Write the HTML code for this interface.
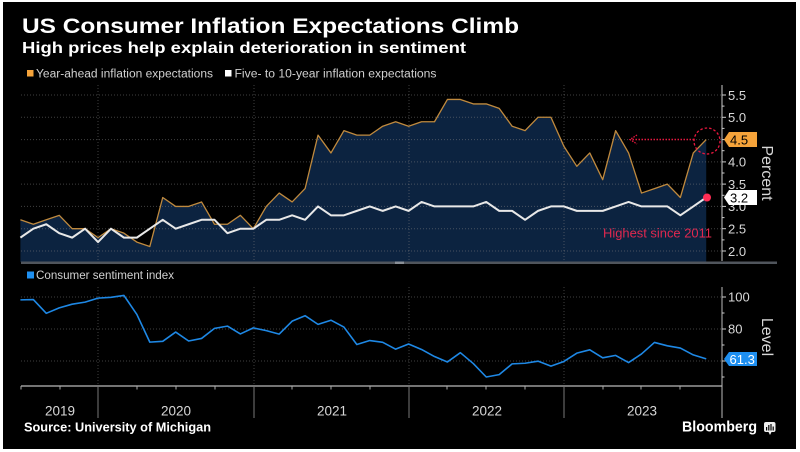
<!DOCTYPE html>
<html><head><meta charset="utf-8">
<style>
html,body{margin:0;padding:0;background:#fff;width:800px;height:452px;overflow:hidden}
svg{display:block}
text{font-family:"Liberation Sans",sans-serif}
</style></head>
<body>
<svg width="800" height="452" viewBox="0 0 800 452" xmlns="http://www.w3.org/2000/svg">
<rect x="0" y="0" width="800" height="452" fill="#ffffff"/>
<rect x="3" y="2" width="793" height="447" fill="#000000"/>

<!-- Titles -->
<text x="22" y="33" font-size="21" font-weight="bold" fill="#ffffff" textLength="497" lengthAdjust="spacingAndGlyphs">US Consumer Inflation Expectations Climb</text>
<text x="22" y="53" font-size="15.5" font-weight="bold" fill="#ffffff" textLength="444" lengthAdjust="spacingAndGlyphs">High prices help explain deterioration in sentiment</text>

<!-- Legend upper -->
<rect x="27" y="70" width="6.5" height="6.5" fill="#f5a33a"/>
<text x="36" y="77.5" font-size="11.5" fill="#d0d0d0" textLength="177" lengthAdjust="spacingAndGlyphs">Year-ahead inflation expectations</text>
<rect x="225" y="70" width="6.5" height="6.5" fill="#ffffff"/>
<text x="234.5" y="77.5" font-size="11.5" fill="#d0d0d0" textLength="202" lengthAdjust="spacingAndGlyphs">Five- to 10-year inflation expectations</text>

<!-- Upper fill -->
<g transform="translate(20.4,95) scale(12.94,-44.57) translate(0,-5.5)">
<polygon fill="#0c2340" points="0,1.753 0,2.7 1,2.6 2,2.7 3,2.8 4,2.5 5,2.5 6,2.3 7,2.5 8,2.4 9,2.2 10,2.1 11,3.2 12,3.0 13,3.0 14,3.1 15,2.6 16,2.6 17,2.8 18,2.5 19,3.0 20,3.3 21,3.1 22,3.4 23,4.6 24,4.2 25,4.7 26,4.6 27,4.6 28,4.8 29,4.9 30,4.8 31,4.9 32,4.9 33,5.4 34,5.4 35,5.3 36,5.3 37,5.2 38,4.8 39,4.7 40,5.0 41,5.0 42,4.35 43,3.9 44,4.2 45,3.6 46,4.7 47,4.2 48,3.3 49,3.4 50,3.5 51,3.2 52,4.2 53,4.5 53,1.753"/>
</g>

<!-- Upper grid -->
<g stroke="rgba(130,130,130,0.5)" stroke-width="1" stroke-dasharray="1,2">
<line x1="21" y1="95" x2="722" y2="95"/>
<line x1="21" y1="117.3" x2="722" y2="117.3"/>
<line x1="21" y1="139.6" x2="722" y2="139.6"/>
<line x1="21" y1="161.9" x2="722" y2="161.9"/>
<line x1="21" y1="184.1" x2="722" y2="184.1"/>
<line x1="21" y1="206.4" x2="722" y2="206.4"/>
<line x1="21" y1="228.7" x2="722" y2="228.7"/>
<line x1="21" y1="251" x2="722" y2="251"/>
<line x1="98" y1="85" x2="98" y2="261"/>
<line x1="254" y1="85" x2="254" y2="261"/>
<line x1="409" y1="85" x2="409" y2="261"/>
<line x1="564" y1="85" x2="564" y2="261"/>
</g>

<!-- Upper lines -->
<g transform="translate(20.4,95) scale(12.94,-44.57) translate(0,-5.5)" fill="none" stroke-linejoin="round">
<polyline vector-effect="non-scaling-stroke" stroke="#c08a3e" stroke-width="1.3" points="0,2.7 1,2.6 2,2.7 3,2.8 4,2.5 5,2.5 6,2.3 7,2.5 8,2.4 9,2.2 10,2.1 11,3.2 12,3.0 13,3.0 14,3.1 15,2.6 16,2.6 17,2.8 18,2.5 19,3.0 20,3.3 21,3.1 22,3.4 23,4.6 24,4.2 25,4.7 26,4.6 27,4.6 28,4.8 29,4.9 30,4.8 31,4.9 32,4.9 33,5.4 34,5.4 35,5.3 36,5.3 37,5.2 38,4.8 39,4.7 40,5.0 41,5.0 42,4.35 43,3.9 44,4.2 45,3.6 46,4.7 47,4.2 48,3.3 49,3.4 50,3.5 51,3.2 52,4.2 53,4.5"/>
<polyline vector-effect="non-scaling-stroke" stroke="#e8e8e8" stroke-width="2" points="0,2.3 1,2.5 2,2.6 3,2.4 4,2.3 5,2.5 6,2.2 7,2.5 8,2.3 9,2.3 10,2.5 11,2.7 12,2.5 13,2.6 14,2.7 15,2.7 16,2.4 17,2.5 18,2.5 19,2.7 20,2.7 21,2.8 22,2.7 23,3.0 24,2.8 25,2.8 26,2.9 27,3.0 28,2.9 29,3.0 30,2.9 31,3.1 32,3.0 33,3.0 34,3.0 35,3.0 36,3.1 37,2.9 38,2.9 39,2.7 40,2.9 41,3.0 42,3.0 43,2.9 44,2.9 45,2.9 46,3.0 47,3.1 48,3.0 49,3.0 50,3.0 51,2.8 52,3.0 53,3.2"/>
</g>

<!-- separator bar -->
<rect x="21" y="261.5" width="756" height="2.5" fill="#50555c"/>
<rect x="395" y="261.5" width="9" height="2.5" fill="#8a8f96"/>

<!-- Upper right axis -->
<line x1="722" y1="85" x2="722" y2="261" stroke="#cccccc" stroke-width="1"/>
<g stroke="#cccccc" stroke-width="1">
<line x1="722" y1="95" x2="726" y2="95"/>
<line x1="722" y1="106.1" x2="724.5" y2="106.1"/>
<line x1="722" y1="117.3" x2="726" y2="117.3"/>
<line x1="722" y1="128.4" x2="724.5" y2="128.4"/>
<line x1="722" y1="139.6" x2="726" y2="139.6"/>
<line x1="722" y1="150.7" x2="724.5" y2="150.7"/>
<line x1="722" y1="161.9" x2="726" y2="161.9"/>
<line x1="722" y1="173" x2="724.5" y2="173"/>
<line x1="722" y1="184.1" x2="726" y2="184.1"/>
<line x1="722" y1="195.3" x2="724.5" y2="195.3"/>
<line x1="722" y1="206.4" x2="726" y2="206.4"/>
<line x1="722" y1="217.6" x2="724.5" y2="217.6"/>
<line x1="722" y1="228.7" x2="726" y2="228.7"/>
<line x1="722" y1="239.9" x2="724.5" y2="239.9"/>
<line x1="722" y1="251" x2="726" y2="251"/>
</g>
<g font-size="13" fill="#d8d8d8">
<text x="728" y="99.8">5.5</text>
<text x="728" y="122.1">5.0</text>
<text x="728" y="166.7">4.0</text>
<text x="728" y="188.9">3.5</text>
<text x="728" y="211.2">3.0</text>
<text x="728" y="233.5">2.5</text>
<text x="728" y="255.8">2.0</text>
</g>
<text x="762" y="173" font-size="16" fill="#d8d8d8" text-anchor="middle" transform="rotate(90 762 173)">Percent</text>

<!-- value boxes upper -->
<polygon points="724,139.5 729,132 757,132 757,147 729,147" fill="#f5a33a"/>
<text x="730" y="144.5" font-size="13" fill="#000">4.5</text>
<polygon points="724,197.5 729,190 757,190 757,205 729,205" fill="#ffffff"/>
<text x="730" y="202.5" font-size="13" fill="#000">3.2</text>

<!-- annotations -->
<circle cx="707" cy="141" r="13" fill="none" stroke="#e8173f" stroke-width="1.3" stroke-dasharray="2.5,2"/>
<line x1="694" y1="139.5" x2="631" y2="139.5" stroke="#e8173f" stroke-width="1.5" stroke-dasharray="1.5,1.5"/>
<polyline points="637,135 630,139.5 637,144" fill="none" stroke="#e8173f" stroke-width="1.3" stroke-dasharray="1.5,1.2"/>
<circle cx="707" cy="197.5" r="4" fill="#ff2d55"/>
<text x="603" y="237.5" font-size="12.5" fill="#e0284f" textLength="109" lengthAdjust="spacingAndGlyphs">Highest since 2011</text>

<!-- Lower legend -->
<rect x="27" y="271.5" width="7" height="7" fill="#1e8ff0"/>
<text x="36" y="279" font-size="11.5" fill="#d0d0d0" textLength="138" lengthAdjust="spacingAndGlyphs">Consumer sentiment index</text>

<!-- Lower grid -->
<g stroke="rgba(130,130,130,0.5)" stroke-width="1" stroke-dasharray="1,2">
<line x1="21" y1="297" x2="722" y2="297"/>
<line x1="21" y1="329" x2="722" y2="329"/>
<line x1="21" y1="361" x2="722" y2="361"/>
<line x1="98" y1="287" x2="98" y2="386"/>
<line x1="254" y1="287" x2="254" y2="386"/>
<line x1="409" y1="287" x2="409" y2="386"/>
<line x1="564" y1="287" x2="564" y2="386"/>
</g>

<g transform="translate(20.4,297) scale(12.94,-1.6) translate(0,-100)" fill="none" stroke-linejoin="round">
<polyline vector-effect="non-scaling-stroke" stroke="#1e88e5" stroke-width="1.6" points="0,98.2 1,98.4 2,89.8 3,93.2 4,95.5 5,96.8 6,99.3 7,99.8 8,101 9,89.1 10,71.8 11,72.3 12,78.1 13,72.5 14,74.1 15,80.4 16,81.8 17,76.9 18,80.7 19,79 20,76.8 21,84.9 22,88.3 23,82.9 24,85.5 25,81.2 26,70.3 27,72.8 28,71.7 29,67.4 30,70.6 31,67.2 32,62.8 33,59.4 34,65.2 35,58.4 36,50 37,51.5 38,58.2 39,58.6 40,59.9 41,56.8 42,59.7 43,64.9 44,67 45,62 46,63.5 47,59 48,64.4 49,71.6 50,69.5 51,68.1 52,63.8 53,61.3"/>
</g>

<!-- Lower axes -->
<line x1="21" y1="386" x2="722" y2="386" stroke="#9a9a9a" stroke-width="1.5"/>
<line x1="722" y1="287" x2="722" y2="418" stroke="#bbbbbb" stroke-width="1"/>
<g stroke="#cccccc" stroke-width="1">
<line x1="722" y1="297" x2="726" y2="297"/>
<line x1="722" y1="313" x2="724.5" y2="313"/>
<line x1="722" y1="329" x2="726" y2="329"/>
<line x1="722" y1="345" x2="724.5" y2="345"/>
<line x1="722" y1="361" x2="726" y2="361"/>
<line x1="722" y1="377" x2="724.5" y2="377"/>
</g>
<g stroke="#777" stroke-width="1">
<line x1="98" y1="386" x2="98" y2="418"/>
<line x1="254" y1="386" x2="254" y2="418"/>
<line x1="409" y1="386" x2="409" y2="418"/>
<line x1="564" y1="386" x2="564" y2="418"/>
</g>
<g stroke="#aaaaaa" stroke-width="1">
<line x1="21" y1="386" x2="21" y2="389.5"/>
<line x1="60" y1="386" x2="60" y2="389.5"/>
<line x1="137" y1="386" x2="137" y2="389.5"/>
<line x1="176" y1="386" x2="176" y2="389.5"/>
<line x1="215" y1="386" x2="215" y2="389.5"/>
<line x1="292" y1="386" x2="292" y2="389.5"/>
<line x1="331" y1="386" x2="331" y2="389.5"/>
<line x1="370" y1="386" x2="370" y2="389.5"/>
<line x1="447" y1="386" x2="447" y2="389.5"/>
<line x1="486" y1="386" x2="486" y2="389.5"/>
<line x1="525" y1="386" x2="525" y2="389.5"/>
<line x1="603" y1="386" x2="603" y2="389.5"/>
<line x1="641" y1="386" x2="641" y2="389.5"/>
<line x1="680" y1="386" x2="680" y2="389.5"/>
</g>
<g font-size="13" fill="#d8d8d8">
<text x="728" y="301.7">100</text>
<text x="728" y="333.7">80</text>
</g>
<text x="762" y="337" font-size="16" fill="#d8d8d8" text-anchor="middle" transform="rotate(90 762 337)">Level</text>
<polygon points="724,359 729,352 757,352 757,366 729,366" fill="#1e8ff0"/>
<text x="729.5" y="364" font-size="13" fill="#ffffff">61.3</text>

<!-- Year labels -->
<g font-size="13.5" fill="#d8d8d8" text-anchor="middle">
<text x="60" y="415.3">2019</text>
<text x="176" y="415.3">2020</text>
<text x="332" y="415.3">2021</text>
<text x="487" y="415.3">2022</text>
<text x="642" y="415.3">2023</text>
</g>

<!-- Footer -->
<text x="24" y="431.7" font-size="12.5" font-weight="bold" fill="#ffffff" textLength="187" lengthAdjust="spacingAndGlyphs">Source: University of Michigan</text>
<text x="682" y="431.3" font-size="15" font-weight="bold" fill="#ffffff" textLength="75" lengthAdjust="spacingAndGlyphs">Bloomberg</text>
<rect x="764" y="422" width="11.5" height="10" rx="2" fill="#eeeeee"/>
<polygon points="768.5,432 771.5,432 770,435" fill="#eeeeee"/>
<g fill="#000">
<rect x="766" y="427" width="1.2" height="3.5"/>
<rect x="768.2" y="425" width="1.2" height="5.5"/>
<rect x="770.4" y="424" width="1.2" height="6.5"/>
<rect x="772.6" y="426.5" width="1.2" height="4"/>
</g>
</svg>
</body></html>
